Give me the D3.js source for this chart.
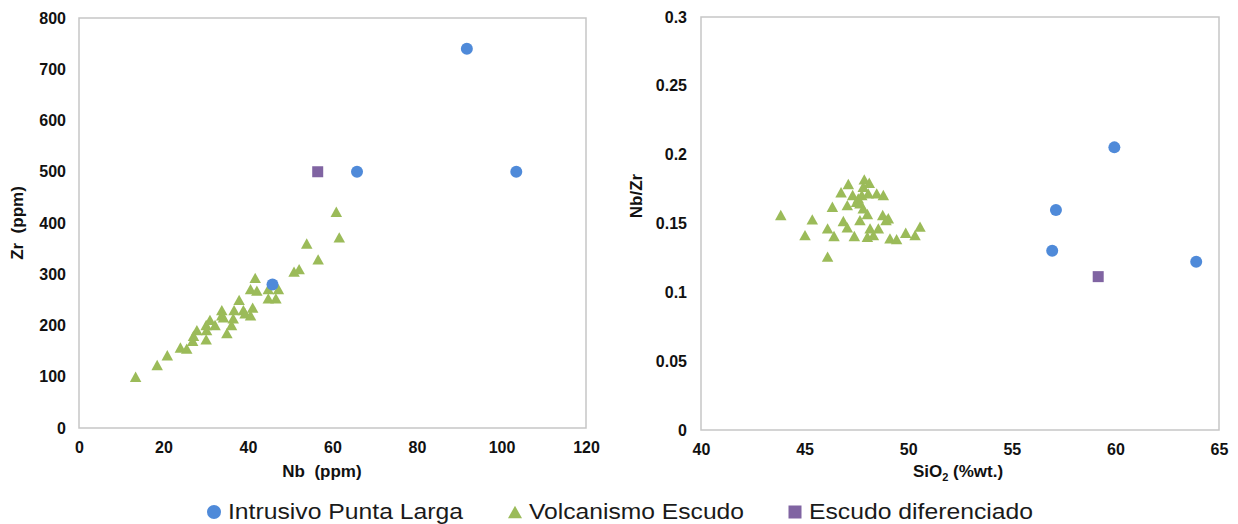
<!DOCTYPE html>
<html>
<head>
<meta charset="utf-8">
<script src="https://cdn.jsdelivr.net/npm/d3@7"></script>
<style>
  body { margin: 0; background: #fff; }
  svg text { font-family: "Liberation Sans", Arial, sans-serif; }
</style>
</head>
<body>
<div id="chart"></div>
<script>
// --- data ---
// left panel: Nb (ppm) vs Zr (ppm)
var intrusivoNb = [91.8, 65.8, 103.5, 45.8];
var intrusivoZr = [740, 500, 500, 280];

var escudoNb = [13.4, 18.5, 20.9, 24.0, 25.5, 26.9, 27.9, 27.1, 30.1, 30.1, 31.0, 30.2, 32.2,
  33.8, 33.8, 34.2, 35.0, 36.1, 36.5, 36.7, 37.9, 38.9, 39.3, 40.6, 41.1, 41.7, 40.6, 42.1,
  44.8, 46.6, 44.8, 47.2, 50.9, 52.1, 53.9, 56.6, 61.6, 60.9];
var escudoZr = [100, 123, 142, 157, 155, 170, 191, 180, 173, 201, 211, 191, 201,
  230, 220, 216, 185, 201, 214, 230, 250, 230, 224, 220, 235, 293, 271, 268,
  253, 253, 271, 271, 305, 310, 360, 329, 372, 422];

var difNb = [56.5];
var difZr = [500];

// right panel: SiO2 (%wt.) vs Nb/Zr
var intrusivoSi = [59.95, 57.13, 56.95, 63.9];
var intrusivoRatio = [0.2053, 0.1598, 0.1302, 0.1222];

var escudoSi = [43.85, 45.02, 45.37, 46.11, 46.11, 46.34, 46.42, 46.76, 46.87, 47.06, 47.11, 47.06,
  47.32, 47.40, 47.51, 47.59, 47.67, 47.76, 47.83, 47.67, 47.88, 47.83, 48.12, 48.03, 48.07,
  48.16, 48.03, 48.32, 48.48, 48.56, 48.77, 48.80, 48.93, 49.04, 49.12, 49.44, 49.88, 50.33, 50.57];
var escudoRatio = [0.1562, 0.1416, 0.1530, 0.1259, 0.1465, 0.1622, 0.1409, 0.1727, 0.1518, 0.1472, 0.1787, 0.1634,
  0.1707, 0.1409, 0.1658, 0.1683, 0.1647, 0.1707, 0.1610, 0.1525, 0.1821, 0.1767, 0.1796, 0.1569, 0.1719,
  0.1465, 0.1404, 0.1416, 0.1719, 0.1465, 0.1562, 0.1707, 0.1525, 0.1538, 0.1392, 0.1387, 0.1433, 0.1416, 0.1477];

var difSi = [59.17];
var difRatio = [0.1114];

var leftXTicks = [0, 20, 40, 60, 80, 100, 120];
var leftYTicks = [0, 100, 200, 300, 400, 500, 600, 700, 800];
var rightXTicks = [40, 45, 50, 55, 60, 65];
var rightYTicks = [0, 0.05, 0.1, 0.15, 0.2, 0.25, 0.3];

var seriesNames = ["Intrusivo Punta Larga", "Volcanismo Escudo", "Escudo diferenciado"];

var blue = "#4f8ad9";
var green = "#9bbb59";
var purple = "#8064a2";
var frame = "#c6c6c6";

var w = 1238;
var h = 524;

var svg = d3.select("#chart")
            .append("svg")
            .attr("width", w)
            .attr("height", h);

function pairs(xs, ys) {
  return xs.map(function(x, i) { return [x, ys[i]]; });
}

// triangle centred on its bounding box, like the spreadsheet marker
function tri(cx, cy, s) {
  var hw = s / 2, hh = s * 0.45;
  return "M" + cx + "," + (cy - hh) + "L" + (cx + hw) + "," + (cy + hh) + "L" + (cx - hw) + "," + (cy + hh) + "Z";
}

function panel(opt) {
  var x = d3.scaleLinear().domain(opt.xDomain).range([opt.left, opt.right]);
  var y = d3.scaleLinear().domain(opt.yDomain).range([opt.bottom, opt.top]);

  var g = svg.append("g");

  // plot frame
  g.append("rect")
   .attr("x", opt.left)
   .attr("y", opt.top)
   .attr("width", opt.right - opt.left)
   .attr("height", opt.bottom - opt.top)
   .attr("fill", "none")
   .attr("stroke", frame)
   .attr("stroke-width", 1.5);

  var xAxis = d3.axisBottom(x).tickValues(opt.xTicks).tickSize(0).tickPadding(0).tickFormat(d3.format("d"));
  var yAxis = d3.axisLeft(y).tickValues(opt.yTicks).tickSize(0).tickPadding(0).tickFormat(opt.yFormat);

  var gx = g.append("g")
            .attr("transform", "translate(0," + opt.bottom + ")")
            .call(xAxis);
  gx.select(".domain").remove();
  gx.selectAll("text")
    .attr("y", 20)
    .attr("dy", "0.32em")
    .attr("font-size", 16)
    .attr("font-weight", "bold")
    .attr("fill", "#111");

  var gy = g.append("g")
            .attr("transform", "translate(" + opt.yLabelX + ",0)")
            .call(yAxis);
  gy.select(".domain").remove();
  gy.selectAll("text")
    .attr("x", 0)
    .attr("dy", "0.32em")
    .attr("font-size", 16)
    .attr("font-weight", "bold")
    .attr("fill", "#111");

  // markers: triangles first, then the other two series on top
  g.selectAll("path.tri")
   .data(pairs(opt.escX, opt.escY))
   .enter()
   .append("path")
   .attr("class", "tri")
   .attr("d", function(d) { return tri(x(d[0]), y(d[1]), 11.5); })
   .attr("fill", green);

  g.selectAll("rect.sq")
   .data(pairs(opt.difX, opt.difY))
   .enter()
   .append("rect")
   .attr("class", "sq")
   .attr("x", function(d) { return x(d[0]) - 5.5; })
   .attr("y", function(d) { return y(d[1]) - 5.5; })
   .attr("width", 11)
   .attr("height", 11)
   .attr("fill", purple);

  g.selectAll("circle")
   .data(pairs(opt.intX, opt.intY))
   .enter()
   .append("circle")
   .attr("cx", function(d) { return x(d[0]); })
   .attr("cy", function(d) { return y(d[1]); })
   .attr("r", 6)
   .attr("fill", blue);

  return g;
}

var left = panel({
  left: 79, right: 586, top: 18, bottom: 428,
  xDomain: [0, 120], yDomain: [0, 800],
  xTicks: leftXTicks, yTicks: leftYTicks,
  yFormat: d3.format("d"), yLabelX: 66,
  intX: intrusivoNb, intY: intrusivoZr,
  escX: escudoNb, escY: escudoZr,
  difX: difNb, difY: difZr
});

var right = panel({
  left: 701, right: 1219, top: 17, bottom: 430,
  xDomain: [40, 65], yDomain: [0, 0.3],
  xTicks: rightXTicks, yTicks: rightYTicks,
  yFormat: function(d) { return d === 0 ? "0" : String(+d.toFixed(2)); }, yLabelX: 687,
  intX: intrusivoSi, intY: intrusivoRatio,
  escX: escudoSi, escY: escudoRatio,
  difX: difSi, difY: difRatio
});

// axis titles
left.append("text")
    .attr("x", 322)
    .attr("y", 472)
    .attr("dy", "0.32em")
    .attr("text-anchor", "middle")
    .attr("font-size", 17)
    .attr("font-weight", "bold")
    .attr("fill", "#111")
    .style("white-space", "pre")
    .text("Nb  (ppm)");

left.append("text")
    .attr("transform", "translate(18,223) rotate(-90)")
    .attr("dy", "0.32em")
    .attr("text-anchor", "middle")
    .attr("font-size", 17)
    .attr("font-weight", "bold")
    .attr("fill", "#111")
    .style("white-space", "pre")
    .text("Zr  (ppm)");

right.append("text")
    .attr("transform", "translate(637,196) rotate(-90)")
    .attr("dy", "0.32em")
    .attr("text-anchor", "middle")
    .attr("font-size", 17)
    .attr("font-weight", "bold")
    .attr("fill", "#111")
    .text("Nb/Zr");

var siTitle = right.append("text")
    .attr("x", 958)
    .attr("y", 472)
    .attr("dy", "0.32em")
    .attr("text-anchor", "middle")
    .attr("font-size", 17)
    .attr("font-weight", "bold")
    .attr("fill", "#111");
siTitle.append("tspan").text("SiO");
siTitle.append("tspan").attr("font-size", 11).attr("dy", 4).text("2");
siTitle.append("tspan").attr("dy", -4).text(" (%wt.)");

// legend
var legendX = [214, 515, 795];
var legendW = [235, 215, 224];
var legend = svg.append("g");

legend.append("circle")
      .attr("cx", legendX[0]).attr("cy", 512).attr("r", 7)
      .attr("fill", blue);
legend.append("path")
      .attr("d", tri(legendX[1], 512, 14))
      .attr("fill", green);
legend.append("rect")
      .attr("x", legendX[2] - 6.5).attr("y", 505.5)
      .attr("width", 13).attr("height", 13)
      .attr("fill", purple);

legend.selectAll("text.leg")
      .data(seriesNames)
      .enter()
      .append("text")
      .attr("class", "leg")
      .attr("x", function(d, i) { return legendX[i] + 14; })
      .attr("y", 519)
      .attr("font-size", 22)
      .attr("textLength", function(d, i) { return legendW[i]; })
      .attr("lengthAdjust", "spacingAndGlyphs")
      .attr("fill", "#1a1a1a")
      .text(function(d) { return d; });
</script>
</body>
</html>
